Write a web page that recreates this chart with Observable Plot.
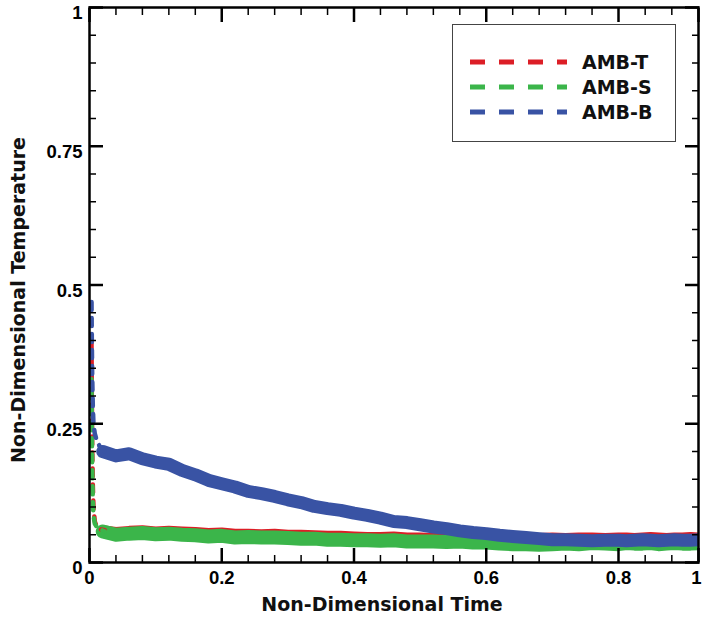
<!DOCTYPE html>
<html>
<head>
<meta charset="utf-8">
<script src="https://cdn.jsdelivr.net/npm/d3@7"></script>
<script src="https://cdn.jsdelivr.net/npm/@observablehq/plot@0.6"></script>
<style>
  body { margin: 0; background: #fff; }
  #wrap { position: relative; width: 702px; height: 620px; }
  #legend { position: absolute; left: 452px; top: 24px; width: 224px; height: 118px; box-sizing: border-box;
    border: 1.5px solid #444; background: #fff; }
  #legend .row { position: absolute; left: 0; height: 24px; display: flex; align-items: center; }
  #legend .row span { font: bold 19px "DejaVu Sans", sans-serif; color: #111; margin-left: 15px; }
  #legend svg { display: block; margin-left: 17px; }
</style>
</head>
<body>
<div id="wrap"><div id="chart"></div><div id="legend"></div></div>
<script>
// ---- data ----
const seriesNames = ["AMB-T", "AMB-S", "AMB-B"];
const seriesColors = ["#dc1e26", "#3bb54a", "#3953a4"];

// initial transient (t = 0 .. 0.02)
const timeStart = [0, 0.0005, 0.001, 0.002, 0.003, 0.005, 0.008, 0.012, 0.02];
const ambTStart = [0.40, 0.30, 0.22, 0.14, 0.10, 0.074, 0.064, 0.060, 0.058];
const ambSStart = [0.33, 0.24, 0.17, 0.11, 0.085, 0.070, 0.064, 0.060, 0.056];
const ambBStart = [0.48, 0.40, 0.34, 0.28, 0.25, 0.232, 0.220, 0.210, 0.200];

// main record (t = 0.02 .. 1.00)
const time = [0.02,0.04,0.06,0.08,0.10,0.12,0.14,0.16,0.18,0.20,
              0.22,0.24,0.26,0.28,0.30,0.32,0.34,0.36,0.38,0.40,
              0.42,0.44,0.46,0.48,0.50,0.52,0.54,0.56,0.58,0.60,
              0.62,0.64,0.66,0.68,0.70,0.72,0.74,0.76,0.78,0.80,
              0.82,0.84,0.86,0.88,0.90,0.92,0.94,0.96,0.98,1.00];
const ambT = [0.058,0.055,0.057,0.058,0.056,0.057,0.056,0.055,0.053,0.054,
              0.052,0.052,0.051,0.052,0.050,0.050,0.049,0.048,0.048,0.047,
              0.046,0.046,0.047,0.045,0.045,0.044,0.045,0.044,0.044,0.044,
              0.043,0.044,0.043,0.044,0.045,0.044,0.045,0.045,0.044,0.045,
              0.045,0.044,0.045,0.046,0.045,0.044,0.045,0.045,0.046,0.045];
const ambS = [0.056,0.050,0.052,0.053,0.051,0.052,0.050,0.049,0.047,0.048,
              0.045,0.046,0.045,0.045,0.044,0.043,0.043,0.041,0.041,0.040,
              0.040,0.039,0.040,0.038,0.038,0.038,0.037,0.038,0.036,0.036,
              0.034,0.033,0.033,0.032,0.033,0.034,0.033,0.035,0.034,0.033,
              0.035,0.034,0.034,0.035,0.033,0.034,0.035,0.034,0.034,0.035];
const ambB = [0.200,0.192,0.196,0.187,0.181,0.177,0.166,0.158,0.148,0.142,
              0.136,0.128,0.124,0.119,0.113,0.108,0.101,0.097,0.094,0.089,
              0.085,0.080,0.074,0.072,0.068,0.064,0.061,0.057,0.054,0.052,
              0.049,0.047,0.045,0.043,0.041,0.041,0.040,0.039,0.040,0.040,
              0.039,0.040,0.041,0.040,0.039,0.040,0.041,0.040,0.040,0.041];

// axis ticks
const xMajorTicks = [0, 0.2, 0.4, 0.6, 0.8, 1];
const xInnerLabels = [0, 0.2, 0.4, 0.6, 0.8];
const xEndLabel = [1];
const xMinorTicks = [0.04,0.08,0.12,0.16,0.24,0.28,0.32,0.36,0.44,0.48,0.52,0.56,0.64,0.68,0.72,0.76,0.8667,0.9333];
const yMajorTicks = [0, 0.25, 0.5, 0.75, 1];
const yMinorTicks = [0.05,0.1,0.15,0.2,0.3,0.35,0.4,0.45,0.55,0.6,0.65,0.7,0.8,0.85,0.9,0.95];
const xLabel = "Non-Dimensional Time";
const yLabel = "Non-Dimensional Temperature";

// ---- build tables ----
const mainVals = [ambT, ambS, ambB];
const startVals = [ambTStart, ambSStart, ambBStart];
const mainRows = mainVals.map((vals, k) => vals.map((v, i) => ({series: seriesNames[k], t: time[i], v})));
const startRows = startVals.map((vals, k) => vals.map((v, i) => ({series: seriesNames[k], t: timeStart[i], v})));

const fmt = d => String(d);
const tickFont = {fontFamily: "'Liberation Sans', Arial, sans-serif", fontWeight: "bold", fontSize: 18.5};
const titleFont = {fontFamily: "'DejaVu Sans', sans-serif", fontWeight: "bold", fontSize: 19, fill: "#111"};

const marks = [];
// series bands (main record), drawn red, green, blue
const widths = [10, 14, 13];
mainRows.forEach((rows, k) => marks.push(Plot.line(rows, {x: "t", y: "v", stroke: seriesColors[k], strokeWidth: widths[k], clip: true})));
// dashed initial transient
startRows.forEach((rows, k) => marks.push(Plot.line(rows, {x: "t", y: "v", stroke: seriesColors[k], strokeWidth: 4.5,
  strokeDasharray: "8,8", strokeDashoffset: k * 5, dx: 2, clip: true})));

marks.push(
  Plot.frame({stroke: "#000", strokeWidth: 2.5}),
  // inward ticks on all four sides
  Plot.axisX(xMajorTicks, {anchor: "bottom", tickSize: -14, strokeWidth: 2.5, tickFormat: () => "", label: null}),
  Plot.axisX(xMinorTicks, {anchor: "bottom", tickSize: -7, strokeWidth: 1.5, tickFormat: () => "", label: null}),
  Plot.axisX(xMajorTicks, {anchor: "top", tickSize: -14, strokeWidth: 2.5, tickFormat: () => "", label: null}),
  Plot.axisX(xMinorTicks, {anchor: "top", tickSize: -7, strokeWidth: 1.5, tickFormat: () => "", label: null}),
  Plot.axisY(yMajorTicks, {anchor: "left", tickSize: -14, strokeWidth: 2.5, tickFormat: () => "", label: null}),
  Plot.axisY(yMinorTicks, {anchor: "left", tickSize: -7, strokeWidth: 1.5, tickFormat: () => "", label: null}),
  Plot.axisY(yMajorTicks, {anchor: "right", tickSize: -14, strokeWidth: 2.5, tickFormat: () => "", label: null}),
  Plot.axisY(yMinorTicks, {anchor: "right", tickSize: -7, strokeWidth: 1.5, tickFormat: () => "", label: null}),
  // tick labels
  Plot.axisX(xInnerLabels, {anchor: "bottom", tickSize: 0, tickPadding: 8, tickFormat: fmt, label: null, ...tickFont}),
  Plot.axisX(xEndLabel, {anchor: "bottom", tickSize: 0, tickPadding: 8, tickFormat: fmt, label: null, textAnchor: "end", dx: 3, ...tickFont}),
  Plot.axisY(yMajorTicks, {anchor: "left", tickSize: 0, tickPadding: 7, tickFormat: fmt, label: null, dy: 6, ...tickFont}),
  // axis titles
  Plot.text([xLabel], {frameAnchor: "bottom", text: d => d, dy: 42, dx: -12, textAnchor: "middle", lineAnchor: "middle", ...titleFont}),
  Plot.text([yLabel], {frameAnchor: "left", text: d => d, rotate: -90, dx: -71, dy: 15, textAnchor: "middle", lineAnchor: "middle", ...titleFont})
);

const chart = Plot.plot({
  width: 702,
  height: 620,
  marginLeft: 89, marginRight: 4, marginTop: 7, marginBottom: 58,
  x: {type: "linear", domain: [0, 0.8, 1], range: [89, 618, 698]},
  y: {type: "linear", domain: [0, 1], range: [562, 7]},
  style: {background: "#fff", overflow: "visible", color: "#000"},
  marks
});
document.getElementById("chart").appendChild(chart);

// ---- legend ----
const legend = document.getElementById("legend");
seriesNames.forEach((name, k) => {
  const row = document.createElement("div");
  row.className = "row";
  row.style.top = (25 + k * 25) + "px";
  row.innerHTML = `<svg width="97" height="8"><line x1="0" x2="97" y1="4" y2="4" stroke="${seriesColors[k]}" stroke-width="5" stroke-dasharray="15,14"/></svg><span>${name}</span>`;
  legend.appendChild(row);
});
</script>
</body>
</html>
